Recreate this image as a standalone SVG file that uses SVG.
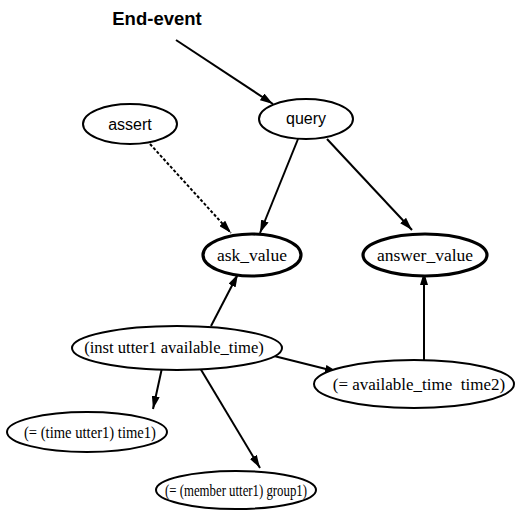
<svg xmlns="http://www.w3.org/2000/svg" width="515" height="510" viewBox="0 0 515 510">
<style>
.n{fill:#fff;stroke:#000;stroke-width:2}
.b{stroke-width:3.2}
.s{font-family:"Liberation Sans",Arial,sans-serif;font-size:16px;text-anchor:middle}
.t{font-family:"Liberation Serif","Times New Roman",serif;font-size:17px;text-anchor:middle}
.e{fill:none;stroke:#000;stroke-width:2}
.d{stroke-dasharray:3 2}
</style>
<defs>
<marker id="a" viewBox="0 0 13 8" refX="13" refY="4" markerWidth="13" markerHeight="8" markerUnits="userSpaceOnUse" orient="auto">
<path d="M0,0 L13,4 L0,8 Z" fill="#000"/>
</marker>
</defs>
<g id="edges">
<path class="e" d="M176,40 L273,104" marker-end="url(#a)"/>
<path class="e d" d="M150,144 L231,233" marker-end="url(#a)"/>
<path class="e" d="M298,139 L260,233" marker-end="url(#a)"/>
<path class="e" d="M327,139 L412,230" marker-end="url(#a)"/>
<path class="e" d="M211,326 L238,274" marker-end="url(#a)"/>
<path class="e" d="M424,360 L424,272" marker-end="url(#a)"/>
<path class="e" d="M274,356 L338,372" marker-end="url(#a)"/>
<path class="e" d="M162,368 L153,409" marker-end="url(#a)"/>
<path class="e" d="M200,368 L260,468" marker-end="url(#a)"/>
</g>
<g id="end-event"><text x="157" y="25" font-family="Liberation Sans,Arial,sans-serif" font-size="18.5" font-weight="bold" text-anchor="middle">End-event</text></g>
<g id="assert"><ellipse class="n" cx="130" cy="124" rx="47" ry="20"/><text class="s" x="130" y="130">assert</text></g>
<g id="query"><ellipse class="n" cx="306" cy="119" rx="47" ry="20"/><text class="s" x="306" y="124">query</text></g>
<g id="ask_value"><ellipse class="n b" cx="252" cy="255" rx="49" ry="21"/><text class="t" x="252" y="261" style="font-size:17.5px">ask_value</text></g>
<g id="answer_value"><ellipse class="n b" cx="425" cy="255" rx="62" ry="21"/><text class="t" x="425" y="261" style="font-size:17.5px">answer_value</text></g>
<g id="inst"><ellipse class="n" cx="177" cy="348" rx="105" ry="22"/><text class="t" x="174" y="353" style="font-size:16.6px">(inst utter1 available_time)</text></g>
<g id="time2"><ellipse class="n" cx="414" cy="384" rx="100" ry="24"/><text class="t" x="419" y="390" xml:space="preserve">(= available_time  time2)</text></g>
<g id="time1"><ellipse class="n" cx="87" cy="432" rx="80" ry="20"/><text class="t" x="90" y="438" textLength="132" lengthAdjust="spacingAndGlyphs">(= (time utter1) time1)</text></g>
<g id="member"><ellipse class="n" cx="236" cy="490" rx="80" ry="19"/><text class="t" x="236" y="496" textLength="142" lengthAdjust="spacingAndGlyphs">(= (member utter1) group1)</text></g>
</svg>
